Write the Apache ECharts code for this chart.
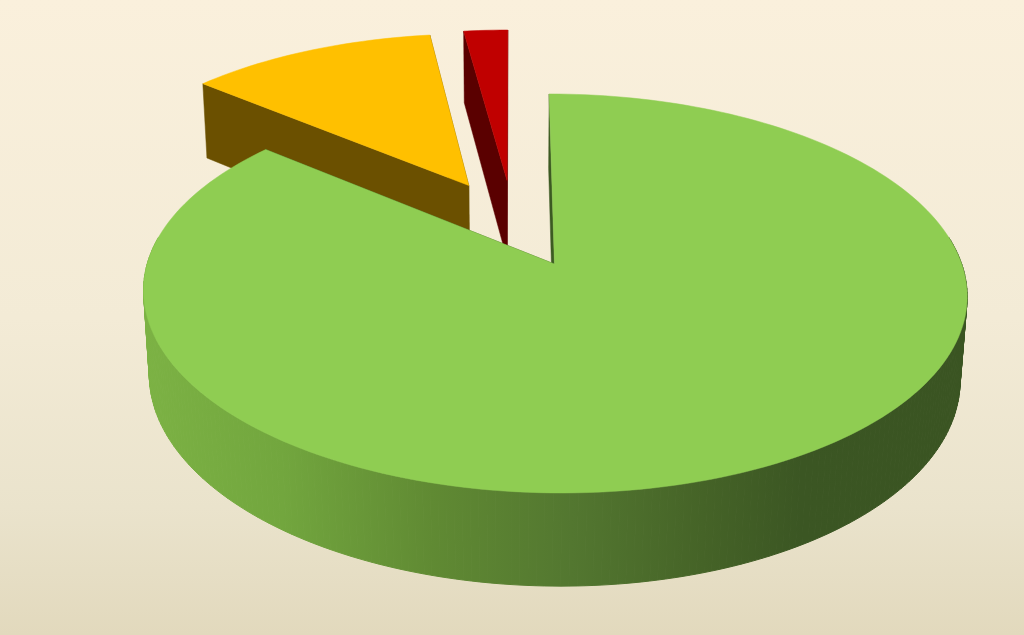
<!DOCTYPE html>
<html>
<head>
<meta charset="utf-8">
<style>html,body{margin:0;padding:0;width:1024px;height:635px;overflow:hidden}#c{width:1024px;height:635px}</style>
<script src="https://cdn.jsdelivr.net/npm/echarts@6/dist/echarts.min.js"></script>
</head>
<body>
<div id="c"></div>
<script>
// Drawing order is back to front; sweep runs counter-clockwise from 12 o'clock.
const categories = ['Red', 'Yellow', 'Green'];
const values = [2.1, 11.8, 86.1];
const sliceOrder = [1, 0, 2];

const topColors = ['#c00000', '#ffc000', '#8fcd52'];
const faceColors = ['#5a0000', '#6b5000', '#3c5a22'];

// Perspective camera of the 3D pie (pixels, and world units where radius = 1)
const CX = 513.1, CY = 222.9, SX = 394.6, SY = 183.2, DEPTH = 82.4;
const PERSP_Y = 0.143, PERSP_Z = 0.015, EXPLODE = 0.24;

function project(x, y, z) {
  const w = 1 - PERSP_Y * y + PERSP_Z * z;
  return [CX + SX * x / w, CY + (SY * y + DEPTH * z) / w];
}
const total = values.reduce((a, b) => a + b, 0);
const starts = [];
values.reduce((acc, v, i) => { starts[i] = acc; return acc + v; }, 0);

function ringPoint(center, deg, z) {
  const r = deg * Math.PI / 180;
  return project(center[0] - Math.sin(r), center[1] - Math.cos(r), z);
}
function arc(center, from, to, z) {
  const pts = [];
  const n = Math.max(2, Math.ceil(Math.abs(to - from) / 1.5));
  for (let i = 0; i <= n; i++) pts.push(ringPoint(center, from + (to - from) * i / n, z));
  return pts;
}
function poly(points, fill, lineWidth) {
  return { type: 'polygon', shape: { points }, style: { fill, stroke: fill, lineWidth: lineWidth || 0.5 } };
}

const rimGradient = new echarts.graphic.LinearGradient(143, 0, 967, 0, [
  { offset: 0, color: '#7cb244' },
  { offset: 0.17, color: '#72a63e' },
  { offset: 0.35, color: '#608a33' },
  { offset: 0.52, color: '#537730' },
  { offset: 0.68, color: '#456327' },
  { offset: 0.8, color: '#3b5623' },
  { offset: 1, color: '#3a5422' }
], true);

function renderSlice(params, api) {
  const idx = api.value(0);
  const start = starts[idx] / total * 360;
  const end = (starts[idx] + values[idx]) / total * 360;
  const mid = (start + end) / 2 * Math.PI / 180;
  const c = [-EXPLODE * Math.sin(mid), -EXPLODE * Math.cos(mid)];
  const apexTop = project(c[0], c[1], 0), apexBot = project(c[0], c[1], 1);
  const children = [];
  // radial faces
  [start, end].forEach(a => {
    children.push(poly([apexTop, ringPoint(c, a, 0), ringPoint(c, a, 1), apexBot], faceColors[idx]));
  });
  // front part of the rim, swept so that its silhouette joins both rings
  const f0 = Math.max(start, 82), f1 = Math.min(end, 278);
  for (let a = f0; a < f1; a += 1) {
    const b = Math.min(a + 1, f1);
    children.push(poly([ringPoint(c, a, 0), ringPoint(c, b, 0), ringPoint(c, b, 1), ringPoint(c, a, 1)], rimGradient, 1));
  }
  // top
  children.push(poly([apexTop].concat(arc(c, start, end, 0)), topColors[idx]));
  return { type: 'group', children };
}

const chart = echarts.init(document.getElementById('c'), null, { renderer: 'canvas' });
chart.setOption({
  animation: false,
  backgroundColor: new echarts.graphic.LinearGradient(0, 0, 0, 1, [
    { offset: 0, color: '#faf0dc' },
    { offset: 0.5, color: '#f3ebd6' },
    { offset: 0.8, color: '#eae3cc' },
    { offset: 1, color: '#e2d9bd' }
  ]),
  series: [{
    type: 'custom',
    coordinateSystem: 'none',
    silent: true,
    renderItem: renderSlice,
    data: sliceOrder.map(i => ({ name: categories[i], value: [i, values[i]] }))
  }]
});
</script>
</body>
</html>
